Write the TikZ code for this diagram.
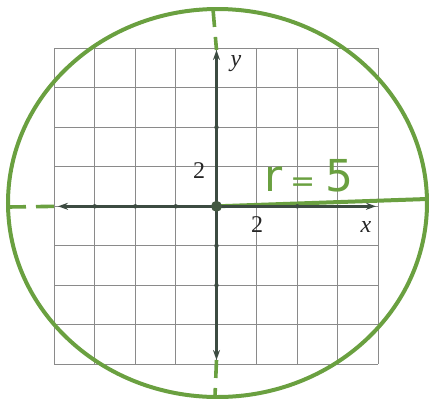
\documentclass[tikz,border=0pt]{standalone}
\usepackage{fontspec}
\setmainfont{Liberation Serif}
\newfontfamily\handfont{DejaVu Sans}
\usetikzlibrary{arrows.meta}
\definecolor{pen}{HTML}{6AA040}
\definecolor{axisc}{HTML}{3C4B41}
\definecolor{gridc}{HTML}{8A8A8A}
\begin{document}
\begin{tikzpicture}[x=0.5pt,y=-0.5pt,
  gridline/.style={draw=gridc,line width=0.45pt},
  axisline/.style={draw=axisc,line width=1.5pt,{Stealth[length=5pt,width=3.5pt]}-{Stealth[length=5pt,width=3.5pt]}},
  penline/.style={draw=pen,line width=2pt,line cap=round},
  pendash/.style={draw=pen,line width=1.8pt,dash pattern=on 9pt off 5pt},
  tickdot/.style={circle,fill=axisc,inner sep=0pt,minimum size=2.2pt},
  lab/.style={font=\fontsize{12}{14}\selectfont,text=black!85,inner sep=0pt}]
\useasboundingbox (0,0) rectangle (429,398);
% grid
\foreach \i in {0,...,8}{
  \draw[gridline] ({54.3+\i*40.5},48.3) -- ({54.3+\i*40.5},364.3);
  \draw[gridline] (54.3,{48.3+\i*39.5}) -- (378.3,{48.3+\i*39.5});
}
% named points
\coordinate (O) at (216.5,206.3);
\coordinate (C) at (217.5,203);
\coordinate (xl) at (58,206.3);
\coordinate (xr) at (376,206.3);
\coordinate (yt) at (216.5,50);
\coordinate (yb) at (216.5,360);
\coordinate (cL) at (8,207);
\coordinate (cR) at (427,199);
\coordinate (cT) at (213,9);
\coordinate (cB) at (215,396);
% circle
\draw[penline] (C) ellipse [x radius=209.5, y radius=194];
% green radius and dashed extensions
\draw[penline] (O) -- (cR);
\draw[pendash] (cL) -- (xl);
\draw[pendash] (cT) -- (yt);
\draw[pendash] (yb) -- (cB);
% axes
\draw[axisline] (xl) -- (xr);
\draw[axisline] (yb) -- (yt);
% ticks
\foreach \x in {94.8,135.3,175.8,297.3} \node[tickdot] at (\x,206.3) {};
\foreach \y in {127.3,245.8,285.3} \node[tickdot] at (216.5,\y) {};
\node[circle,fill=axisc!85!pen,inner sep=0pt,minimum size=5.5pt] (c0) at (O) {};
% labels
\node[lab,font=\fontsize{12}{14}\selectfont\itshape] (ly) at (236,64) {y};
\node[lab,font=\fontsize{12}{14}\selectfont\itshape] (lx) at (366,227) {x};
\node[lab] (l2y) at (199,171) {2};
\node[lab] (l2x) at (257,225) {2};
\node[text=pen,inner sep=0pt,font=\handfont\fontsize{22}{24}\selectfont] (r5) at (309,176) {r\hspace{4pt}{\fontsize{15}{15}\selectfont=}\hspace{5pt}5};
\end{tikzpicture}
\end{document}
